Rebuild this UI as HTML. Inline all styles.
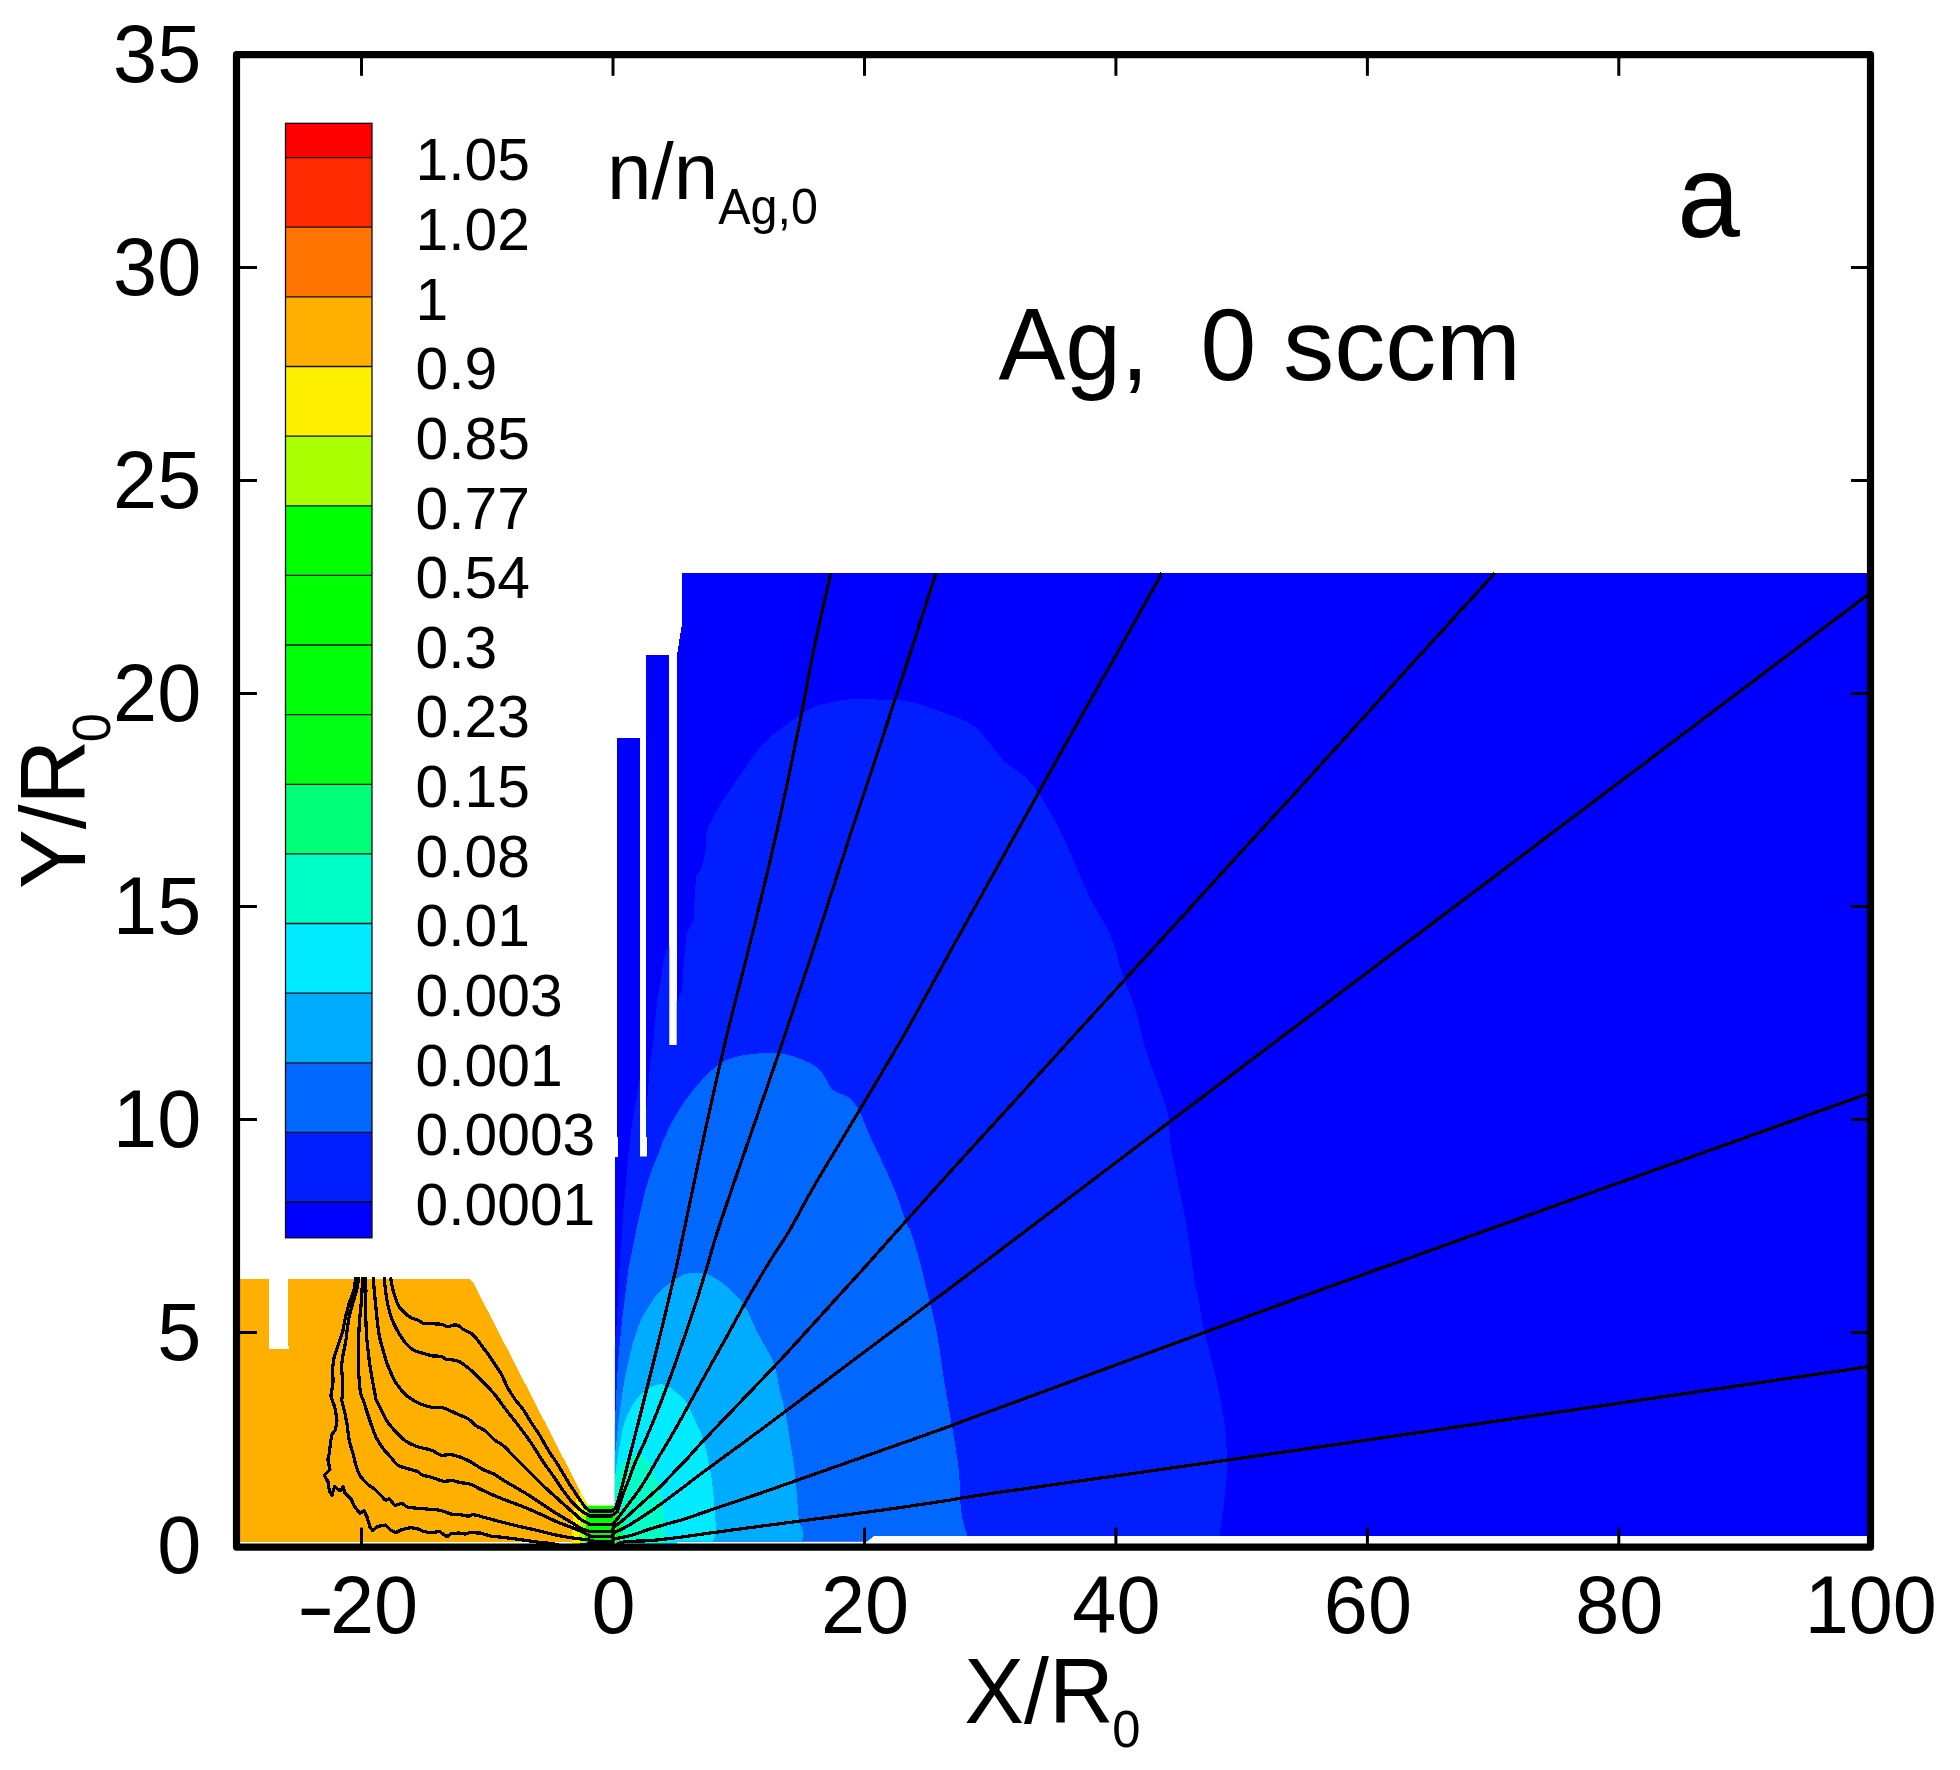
<!DOCTYPE html>
<html lang="en"><head><meta charset="utf-8"><title>Ag, 0 sccm - n/nAg,0 contour plot</title>
<style>html,body{margin:0;padding:0;background:#fff}svg{display:block}</style></head>
<body>
<svg width="1960" height="1770" viewBox="0 0 1960 1770">
<rect width="1960" height="1770" fill="#fff"/>
<defs><clipPath id="dom"><polygon points="614.9,1543.3 614.9,1156.6 618.4,1156.6 618.4,1137 617,1137 617,737.5 640,737.5 640,1156.6 647.4,1156.6 647.4,1137 646,1137 646,654.8 669.3,654.8 669.3,1044.9 676.7,1044.9 676.7,657.7 681.5,626.5 681.5,573.3 1867.2,573.3 1867.2,1536 873.5,1536 867,1541.4 676.8,1541.4 676.8,1543.3"/></clipPath></defs>
<g shape-rendering="crispEdges">
<polygon points="614.9,1543.3 614.9,1156.6 618.4,1156.6 618.4,1137 617,1137 617,737.5 640,737.5 640,1156.6 647.4,1156.6 647.4,1137 646,1137 646,654.8 669.3,654.8 669.3,1044.9 676.7,1044.9 676.7,657.7 681.5,626.5 681.5,573.3 1867.2,573.3 1867.2,1536 873.5,1536 867,1541.4 676.8,1541.4 676.8,1543.3" fill="#0000FF"/>
<g clip-path="url(#dom)">
<path d="M614 1350 L616.3 1330 L617.9 1301 L619.5 1268.8 L621.6 1236.6 L623.8 1204.4 L627 1172 L628.3 1156.6 L630.3 1137 L632.3 1122.4 L636 1102 L640 1076.5 L646 1112 L647.1 1102 L648.7 1081.6 L650.2 1063.3 L652.8 1045.9 L655.3 1020.4 L657 999.7 L660.5 982.4 L662.6 967.2 L664.6 955 L669.2 943.8 L676.8 1002.8 L677.8 999.7 L682.4 990.6 L682.9 972.2 L684.9 951.9 L686.5 933.6 L693.6 919.3 L695.1 890.9 L696.1 875.6 L701.2 869.5 L705.8 850.2 L705.8 840 L707.1 828.6 C709.8 823.8 717.3 809.5 723.2 800 C729.2 790.5 736.6 780.4 742.9 771.4 C749.1 762.5 753.6 754.2 760.7 746.4 C767.9 738.7 776.8 731.5 785.7 725 C794.6 718.5 803.6 711.4 814.3 707.1 C825 702.9 838.1 700.5 850 699.3 C861.9 698.1 875.6 699.6 885.7 700 C895.8 700.4 901.2 699.7 910.7 701.8 C920.2 703.9 932.1 708.3 942.9 712.5 C953.6 716.7 964.9 718.8 975 726.8 C985.1 734.8 995.2 752.4 1003.6 760.7 C1011.9 769 1018.5 770.2 1025 776.8 C1031.5 783.3 1036.3 789.6 1042.9 800 C1049.4 810.4 1056.5 823.2 1064.3 839.3 C1072 855.4 1081.5 880.4 1089.3 896.4 C1097 912.5 1105.4 923.2 1110.7 935.7 C1116.1 948.2 1117.3 958.9 1121.4 971.4 C1125.6 983.9 1131.8 998.2 1135.7 1010.7 C1139.6 1023.2 1141.1 1034.5 1144.6 1046.4 C1148.2 1058.3 1153.3 1070.8 1157.1 1082.1 C1161 1093.5 1165.5 1103 1167.9 1114.3 C1170.2 1125.6 1168.5 1132.1 1171.4 1150 C1174.4 1167.9 1181.8 1199.4 1185.7 1221.4 C1189.6 1243.5 1193.2 1272 1194.6 1282.1 L1198 1296 L1202.3 1322.7 L1209 1350 L1216.4 1379.2 L1224.9 1424.4 L1227.7 1464 L1225.5 1490 L1223.2 1509.2 L1219.2 1537.4 L1219 1545 L614 1545Z" fill="#001EFF"/>
<path d="M614 1430 C614.2 1427.8 614.7 1424.2 615.2 1416.6 C615.7 1409 616.2 1395.1 616.8 1384.4 C617.4 1373.7 618 1362.9 618.9 1352.2 C619.8 1341.5 621.5 1326.8 622.2 1320 C622.9 1313.2 622.6 1316.7 623.2 1311.7 C623.8 1306.7 625 1297.4 625.9 1290.2 C626.8 1283 627.4 1276 628.6 1268.8 C629.8 1261.6 631.5 1254.5 632.9 1247.3 C634.3 1240.1 635.2 1234.8 637.2 1225.8 C639.2 1216.8 642.4 1202.5 644.7 1193.6 C647 1184.7 648.6 1179.3 651.1 1172.2 C653.6 1165.1 657.6 1156.1 659.7 1150.7 C661.8 1145.3 660.4 1146.7 663.5 1140 C666.6 1133.3 672.5 1120.4 678.6 1110.7 C684.7 1101.1 692.3 1090.5 700 1082.1 C707.7 1073.8 715.5 1065.5 725 1060.7 C734.5 1056 747 1054.6 757.1 1053.6 C767.3 1052.5 775.6 1051.9 785.7 1054.3 C795.8 1056.7 810.1 1062 817.9 1067.9 C825.6 1073.7 826.2 1083.6 832.1 1089.3 C838.1 1094.9 847 1093.5 853.6 1101.8 C860.1 1110.1 864.9 1125.3 871.4 1139.3 C878 1153.3 886.9 1171.4 892.9 1185.7 C898.8 1200 904.3 1217.6 907.1 1225 C910 1232.4 908.3 1224.8 910.2 1230 C912.1 1235.2 915.3 1245.3 918.4 1256.5 C921.5 1267.7 925.5 1284.7 928.6 1297.3 C931.7 1309.9 934.3 1319.4 936.7 1332 C939.1 1344.6 940.9 1360 942.9 1372.9 C944.9 1385.8 947 1397.7 949 1409.6 C951 1421.5 953.4 1433.4 955.1 1444.3 C956.8 1455.2 958.2 1463.7 959.2 1474.9 C960.2 1486.1 959.9 1501.4 961.2 1511.6 C962.6 1521.8 966.3 1532 967.3 1536.1 L968 1545 L614 1545Z" fill="#0068FF"/>
<path d="M614 1460 C614.3 1458.1 615.1 1454.2 615.7 1448.8 C616.4 1443.3 617.1 1434.5 617.9 1427.3 C618.7 1420.1 619.6 1412.9 620.6 1405.8 C621.6 1398.7 622.5 1391.6 623.8 1384.4 C625 1377.2 626.5 1370.1 628.1 1362.9 C629.7 1355.8 631.3 1348.7 633.4 1341.5 C635.5 1334.3 639 1324.6 640.9 1320 C642.8 1315.4 643.2 1316.4 644.7 1313.8 C646.2 1311.2 647.8 1307.8 650.1 1304.2 C652.4 1300.6 655.4 1295.8 658.6 1292.4 C661.8 1289 665.8 1286.5 669.4 1283.8 C673 1281.1 676.4 1278.1 680.1 1276.3 C683.8 1274.5 687.2 1273.2 691.8 1272.9 C696.5 1272.6 703.1 1272.8 708.2 1274.5 C713.3 1276.2 717.3 1279.1 722.4 1283.1 C727.6 1287 734.7 1293.9 738.8 1298.4 C742.9 1302.8 743.9 1304 746.9 1309.6 C750 1315.2 752.7 1323.2 757.1 1332 C761.6 1340.9 769.7 1353.1 773.5 1362.7 C777.2 1372.2 777.6 1380.7 779.6 1389.2 C781.6 1397.7 784 1405.2 785.7 1413.7 C787.4 1422.2 788.4 1431.7 789.8 1440.2 C791.2 1448.7 792.7 1455.5 793.9 1464.7 C795.1 1473.9 796.1 1486.1 796.9 1495.3 C797.8 1504.5 798 1513.7 799 1519.8 C800 1525.9 802.6 1528.5 803.1 1532 C803.6 1535.6 802.2 1539.7 802 1541.2 L802 1545 L614 1545Z" fill="#00ACFF"/>
<path d="M614 1488 C614.2 1485.9 614.7 1480.3 615.2 1475.6 C615.8 1470.8 616.5 1464.9 617.3 1459.5 C618.1 1454.1 619 1448.8 620 1443.4 C621 1438 621.8 1432.5 623.2 1427.3 C624.6 1422.1 626.3 1417.1 628.6 1412.3 C630.9 1407.5 634 1402.2 637.2 1398.3 C640.4 1394.4 644.3 1391 647.9 1388.7 C651.5 1386.4 655.4 1385.1 658.6 1384.6 C661.8 1384.1 664.3 1384.3 667.2 1385.5 C670.1 1386.7 672.6 1389.1 675.8 1391.9 C679 1394.8 684 1399.4 686.5 1402.6 C689 1405.8 689.2 1407.8 690.8 1411.2 C692.4 1414.6 694.4 1419.1 696.2 1423 C698 1426.9 699.9 1430.2 701.6 1434.8 C703.3 1439.4 705 1445.3 706.4 1450.8 C707.8 1456.3 708.8 1462.1 709.8 1467.8 C710.8 1473.5 711.7 1479 712.4 1484.7 C713.1 1490.4 713.6 1496.1 714.1 1501.7 C714.6 1507.3 715 1513.6 715.3 1518.6 C715.6 1523.5 716.1 1527.7 715.8 1531.4 C715.4 1535.2 713.6 1539.5 713.2 1541.1 L713 1545 L614 1545Z" fill="#00EBFF"/>
<path d="M614 1492 C614.2 1490.1 614.7 1483.8 615.3 1480.5 C615.9 1477.2 616.3 1474.8 617.5 1472 C618.7 1469.2 620.5 1466 622.5 1463.6 C624.5 1461.2 626.8 1459.2 629.3 1457.6 C631.8 1456 635.4 1454.5 637.8 1454.2 C640.2 1453.9 642 1454.8 643.7 1455.9 C645.4 1457 646.6 1458.6 648 1461 C649.4 1463.4 650.9 1467.8 652.2 1470.3 C653.5 1472.8 654.6 1474.2 655.6 1476.3 C656.6 1478.4 657.2 1480.3 658.1 1483.1 C659 1485.9 660 1490.1 660.7 1493.2 C661.4 1496.3 662 1498.9 662.4 1501.7 C662.8 1504.5 662.9 1507.4 663.2 1510.2 C663.5 1513 663.9 1515.8 664.1 1518.6 C664.3 1521.4 664.4 1524.3 664.5 1527.1 C664.6 1529.9 665.1 1533.3 664.9 1535.6 C664.7 1537.9 663.5 1540.2 663.2 1541.1 L663 1545 L614 1545Z" fill="#00FFC8"/>
<polygon points="614,1503 617,1508 621,1516 624,1526 623,1536 619,1545 614,1545" fill="#00FF78"/>
<polygon points="614,1506 616.5,1512 619,1522 618.5,1534 616,1545 614,1545" fill="#00FF14"/>
</g>
<defs><clipPath id="cham"><polygon points="240,1279 269.2,1279 269.2,1349.4 289,1349.4 289,1345.7 287.8,1345.7 287.8,1279 469.7,1279 473.8,1283.8 587.8,1505.8 615.5,1505.8 615.5,1543.8 572,1543.8 572,1541.9 240,1541.9"/></clipPath></defs>
<polygon points="240,1279 269.2,1279 269.2,1349.4 289,1349.4 289,1345.7 287.8,1345.7 287.8,1279 469.7,1279 473.8,1283.8 587.8,1505.8 615.5,1505.8 615.5,1543.8 572,1543.8 572,1541.9 240,1541.9" fill="#FFAF00"/>
<g clip-path="url(#cham)">
<polygon points="582,1488 576.7,1498 574.9,1506.2 573.1,1515.2 572.2,1524.2 571.7,1533.3 572,1545 640,1545 640,1488" fill="#FFF000"/>
<polygon points="586.5,1497 583,1506.2 581.7,1512.9 580.3,1522 579.6,1528.8 579.4,1535.5 579.6,1545 640,1545 640,1497" fill="#AAFF00"/>
<polygon points="589,1502 586.6,1510.7 586.2,1519.7 585.7,1528.8 585.3,1535.5 584.8,1545 640,1545 640,1502" fill="#00FF00"/>
</g>
</g>
<g fill="none" stroke="#000" stroke-width="3.25" stroke-linejoin="round" shape-rendering="crispEdges">
<path d="M355.9 1277.3 L353.9 1290.6 L349.3 1302.9 L345.7 1316.1 L342.7 1331.4 L337.6 1346.7 L334 1358 L332.7 1367.1 L333 1382.4 L330.9 1396.2 L334 1404.9 L335.5 1410.2 L337 1420.4 L335.5 1429.6 L331.9 1434.7 L330.4 1442.9 L329.4 1453.1 L327.9 1459.2 L329.9 1469.4 L324.3 1475.5 L327.9 1481.6 L329.4 1490.8 L331.9 1495.4 L334.5 1486.7 L340.1 1490.8 L343.2 1486.7 L344.7 1492.9 L350.8 1498.5 L354.9 1507.1 L360 1513.3 L364.1 1510.7 L367.1 1517.3 L370.2 1527.6 L372.8 1530.6 L377.3 1526.5 L385.5 1525 L390.6 1530.1 L395.7 1532.7 L401.8 1529.6 L411 1527.6 L418.2 1529.1 L424.3 1531.6 L430.4 1532.7 L439.6 1531.6 L447.2 1536.7 L451.8 1533.2 L460 1533.1 L465.1 1534.1 L470.2 1532.6 L480.4 1533.1 L490.6 1536.1 L505.9 1537.7 L521.2 1539.7 L531.4 1541.2 L539.6 1542.4 L549.8 1543.3 L558 1544.8 L562 1547.9 L589.5 1543.8 L611.5 1543.8 L614.9 1546 C616.4 1545.3 618 1542.8 623.6 1541.9 C629.2 1541 641.2 1541.2 648.5 1540.7 C655.8 1540.2 661.1 1539.5 667.2 1538.8 C673.3 1538.1 679.2 1537.4 685 1536.6 C690.8 1535.8 689 1535.9 702 1534.1 C715 1532.3 742.9 1528.6 763.3 1525.9 C783.7 1523.2 804.1 1520.5 824.5 1517.8 C844.9 1515.1 865.3 1512.5 885.7 1509.6 C906.1 1506.7 927.9 1503.5 946.9 1500.6 C965.9 1497.7 941.1 1500.7 1000 1492.2 C1058.8 1483.7 1155.4 1470.7 1300 1449.8 C1444.6 1428.9 1772.9 1380.6 1867.5 1366.8"/>
<path d="M359 1277.3 C358.6 1279.6 357.4 1286.4 356.4 1290.6 C355.4 1294.9 354 1298.6 352.9 1302.9 C351.7 1307.1 350.2 1311.7 349.3 1316.1 C348.4 1320.5 347.8 1325.1 347.2 1329.4 C346.6 1333.6 346.5 1337 345.7 1341.6 C344.9 1346.2 343.3 1352.7 342.7 1356.9 C342 1361.2 341.6 1362.9 341.6 1367.1 C341.6 1371.4 342.6 1377.3 342.7 1382.4 C342.7 1387.6 342.3 1394.8 342.1 1397.8 C342 1400.7 341.2 1397.6 341.6 1400 C342.1 1402.4 343.8 1408 344.7 1412.2 C345.6 1416.5 346.5 1420.7 347.2 1425.5 C348 1430.3 348.4 1436.2 349.3 1440.8 C350.2 1445.4 351.8 1449 352.9 1453.1 C354 1457.1 354.7 1461.6 355.9 1465.3 C357.1 1469 358.1 1472.4 360 1475.5 C361.9 1478.6 364.6 1481.3 367.1 1483.7 C369.7 1486.1 372.9 1487.8 375.3 1489.8 C377.7 1491.8 379.7 1494.2 381.4 1495.9 C383.1 1497.6 384.1 1499.5 385.5 1500 C386.9 1500.5 388.1 1498.1 389.6 1499 C391.1 1499.8 392.7 1504.3 394.7 1505.1 C396.7 1505.9 399.6 1503.2 401.8 1503.6 C404 1503.9 404.6 1506.3 408 1507.1 C411.4 1508 417 1508.2 422.2 1508.7 C427.5 1509.2 434.7 1509.3 439.6 1510.2 C444.5 1511.1 448.4 1513.5 451.8 1514.3 C455.2 1515 457.3 1514.4 460 1514.7 C462.7 1515 466 1516.2 468.2 1516.2 C470.4 1516.2 470.4 1514.4 473.3 1514.7 C476.2 1514.9 480.9 1516.6 485.5 1517.8 C490.1 1518.9 495.5 1520.5 500.8 1521.8 C506.1 1523.2 511.4 1524.6 517.1 1525.9 C522.9 1527.3 529.7 1528.6 535.5 1530 C541.3 1531.4 546.6 1532.9 551.8 1534.1 C557.1 1535.3 562 1536.3 567.1 1537.1 C572.2 1538 578.2 1538.6 582.4 1539.2 C586.7 1539.7 591 1540.2 592.7 1540.4 L589.5 1541.3 L611.5 1541.3 L614.9 1538.8 C617.4 1538.3 624.3 1537.2 629.9 1535.7 C635.5 1534.2 642.3 1531.5 648.5 1529.5 C654.7 1527.5 661.1 1525.7 667.2 1523.9 C673.3 1522.1 679.2 1520.7 685 1518.9 C690.8 1517.1 689 1517.5 702 1513 C715 1508.5 742.9 1499.3 763.3 1492.2 C783.7 1485.1 804.1 1477.8 824.5 1470.6 C844.9 1463.4 865.3 1456.2 885.7 1449 C906.1 1441.8 927.9 1434.2 946.9 1427.3 C965.9 1420.4 941.1 1429.3 1000 1407.6 C1058.8 1385.9 1155.4 1349.6 1300 1297.3 C1444.6 1245 1772.9 1127.8 1867.5 1093.9"/>
<path d="M362.6 1277.3 C362.5 1279.6 362.3 1285.9 362 1290.6 C361.8 1295.4 361.4 1300.8 361 1305.9 C360.6 1311 359.9 1315.3 359.5 1321.2 C359.1 1327.2 358.7 1334.8 358.5 1341.6 C358.2 1348.4 358.1 1356.1 358.2 1362 C358.2 1368 358.6 1372.2 359 1377.3 C359.4 1382.4 359.8 1388.9 360.5 1392.7 C361.2 1396.4 362 1396.7 363.1 1400 C364.2 1403.3 365.8 1408.2 367.1 1412.2 C368.5 1416.3 369.7 1420.2 371.2 1424.5 C372.8 1428.7 374.3 1433.7 376.3 1437.8 C378.4 1441.8 380.9 1445.6 383.5 1449 C386 1452.4 389.3 1455.4 391.6 1458.2 C394 1460.9 395.2 1463.6 397.8 1465.3 C400.3 1467 403.7 1467.3 406.9 1468.4 C410.2 1469.4 414.6 1470.3 417.1 1471.4 C419.7 1472.5 419.7 1474 422.2 1475 C424.8 1476 429 1476.5 432.4 1477.6 C435.9 1478.6 439.3 1480.6 442.7 1481.1 C446.1 1481.6 450 1480.4 452.9 1480.6 C455.7 1480.9 457.1 1482 460 1482.6 C462.9 1483.1 466.8 1483 470.2 1484.1 C473.6 1485.2 476.5 1487.3 480.4 1489.2 C484.3 1491.1 488.9 1493.3 493.7 1495.3 C498.4 1497.3 503.7 1499.4 509 1501.4 C514.3 1503.5 519.9 1505.3 525.3 1507.6 C530.7 1509.8 536.4 1512.3 541.6 1514.7 C546.9 1517.1 552.2 1519.8 556.9 1521.8 C561.7 1523.9 566.3 1525.4 570.2 1526.9 C574.1 1528.5 577 1529.5 580.4 1531 C583.8 1532.5 588.9 1535.1 590.6 1535.9 L589.5 1536.2 L611.5 1536.2 L614.9 1532 C616.4 1531.4 620.1 1530.2 623.6 1528.3 C627.1 1526.4 632 1523.4 636.1 1520.8 C640.2 1518.2 644.4 1515.5 648.5 1512.7 C652.6 1509.9 656.8 1507 660.9 1504 C665 1501 669.4 1497.7 673.4 1494.7 C677.4 1491.7 680.2 1489.6 685 1486 C689.8 1482.4 689 1482.7 702 1473 C715 1463.3 742.9 1443.2 763.3 1428 C783.7 1412.8 804.1 1397.3 824.5 1382 C844.9 1366.7 865.3 1351.2 885.7 1336 C906.1 1320.8 927.9 1304.8 946.9 1290.5 C965.9 1276.2 974.5 1269.7 1000 1250.4 C1025.5 1231.1 1065.5 1200.7 1100 1174.6 C1134.5 1148.5 1173.7 1118.8 1207 1093.6 C1240.3 1068.4 1189.9 1106.4 1300 1023.3 C1410.1 940.2 1772.9 666.4 1867.5 595"/>
<path d="M365.6 1277.3 C365.7 1279.6 365.9 1285.9 365.9 1290.6 C365.9 1295.4 365.6 1300.8 365.6 1305.9 C365.6 1311 365.7 1316.1 365.9 1321.2 C366.1 1326.3 366.3 1331.4 366.6 1336.5 C367 1341.6 367.6 1346.7 368.2 1351.8 C368.8 1356.9 369.4 1362 370.2 1367.1 C371 1372.2 371.9 1377.7 372.8 1382.4 C373.6 1387.2 374.7 1392.8 375.3 1395.7 C375.9 1398.6 375.3 1397.6 376.3 1400 C377.3 1402.4 379.7 1406.8 381.4 1410.2 C383.1 1413.6 384.3 1417 386.5 1420.4 C388.7 1423.8 391.8 1427.4 394.7 1430.6 C397.6 1433.8 400.5 1437.2 403.9 1439.8 C407.3 1442.3 412 1444.6 415.1 1445.9 C418.2 1447.3 419.4 1447.2 422.2 1448 C425.1 1448.7 429.4 1449.3 432.4 1450.5 C435.5 1451.7 437.6 1454.4 440.6 1455.1 C443.7 1455.8 447.6 1454.3 450.8 1454.6 C454 1454.9 456.8 1455.9 460 1457 C463.2 1458.2 466.3 1459.5 470.2 1461.6 C474.1 1463.8 479.6 1467.8 483.5 1469.8 C487.4 1471.8 490.4 1472.2 493.7 1473.9 C496.9 1475.6 499.3 1477.8 502.9 1480 C506.4 1482.2 511 1484.8 515.1 1487.1 C519.2 1489.5 523.3 1491.7 527.3 1494.3 C531.4 1496.8 535.5 1499.7 539.6 1502.4 C543.7 1505.2 548.1 1508.2 551.8 1510.6 C555.6 1513 558.6 1514.7 562 1516.7 C565.4 1518.8 569.2 1521 572.2 1522.9 C575.3 1524.7 577.4 1526.5 580.4 1528 C583.4 1529.4 588.5 1531 590.1 1531.6 L589.5 1531.7 L611.5 1531.7 L613.7 1527 C615.4 1525.8 619.9 1522.7 623.6 1519.6 C627.3 1516.5 632 1512.1 636.1 1508.4 C640.2 1504.7 644.4 1500.9 648.5 1497.2 C652.6 1493.5 656.8 1490 660.9 1486 C665 1482 669.4 1477.1 673.4 1472.9 C677.4 1468.8 680.2 1466.2 685 1461.1 C689.8 1456 692.4 1452.5 702 1442.2 C711.6 1431.9 729.3 1413.7 742.9 1399.4 C756.5 1385.1 770.1 1371.1 783.7 1356.5 C797.3 1341.9 810.9 1326.6 824.5 1311.6 C838.1 1296.6 853 1280.3 865.3 1266.7 C877.5 1253.1 882.7 1247.1 898 1230 C913.3 1212.9 935.2 1188.3 957 1164.3 C978.8 1140.2 1004.8 1111.9 1028.6 1085.7 C1052.4 1059.5 1076.2 1033.2 1100 1007 C1123.8 980.8 1147.6 954.8 1171.4 928.6 C1195.2 902.4 1221.5 873.5 1242.9 850 C1264.3 826.5 1269.7 821 1300 787.7 C1330.3 754.4 1392.1 685.8 1424.6 650 C1457.1 614.2 1483.3 585.8 1495 573"/>
<path d="M373.3 1277.3 C373.4 1279.6 373.9 1285.9 374.3 1290.6 C374.7 1295.4 375.3 1300.8 375.8 1305.9 C376.3 1311 376.8 1316.1 377.3 1321.2 C377.9 1326.3 378.5 1331.8 379.4 1336.5 C380.3 1341.3 381.8 1345.5 383 1349.8 C384.1 1354 385.3 1358.3 386.5 1362 C387.8 1365.8 389.1 1368.8 390.6 1372.2 C392.1 1375.6 393.8 1379.4 395.7 1382.4 C397.6 1385.5 399.8 1388.2 401.8 1390.6 C403.9 1393 405.6 1394.9 408 1396.7 C410.3 1398.6 413.4 1400.4 416.1 1401.8 C418.8 1403.3 421.6 1404.5 424.3 1405.4 C427 1406.3 429.2 1407 432.4 1407.4 C435.7 1407.9 440.3 1407.2 443.7 1408 C447.1 1408.7 450.1 1410.8 452.9 1412 C455.6 1413.2 457.4 1414.1 460 1415.2 C462.6 1416.3 465.4 1417 468.2 1418.8 C470.9 1420.6 473.4 1423.9 476.3 1425.9 C479.2 1428 482.4 1428.6 485.5 1431 C488.6 1433.4 491.8 1437.8 494.7 1440.2 C497.6 1442.6 499.8 1442.8 502.9 1445.3 C505.9 1447.9 509.7 1452.1 513.1 1455.5 C516.5 1458.9 519.9 1462.3 523.3 1465.7 C526.7 1469.1 529.9 1472.3 533.5 1475.9 C537 1479.5 541.1 1483.7 544.7 1487.1 C548.3 1490.5 551.5 1493.3 554.9 1496.3 C558.3 1499.4 562 1502.8 565.1 1505.5 C568.2 1508.2 570.5 1510.3 573.3 1512.7 C576 1515 578.7 1517.9 581.4 1519.8 C584.1 1521.7 588.2 1523.4 589.6 1524.1 L589.5 1524.5 L611.5 1524.5 L614.3 1522.7 C615.3 1521.3 617.9 1518 620.5 1514.6 C623.1 1511.2 626.8 1506.3 629.9 1502.2 C633 1498.1 636.1 1494.3 639.2 1489.7 C642.3 1485.1 645.4 1480 648.5 1474.8 C651.6 1469.6 654.4 1464.4 657.8 1458.6 C661.2 1452.8 665 1446.8 669 1440 C673 1433.2 675.8 1428.5 681.6 1418 C687.5 1407.5 696.6 1390.5 704.1 1377 C711.6 1363.5 719.4 1349.8 726.5 1337 C733.6 1324.2 739.8 1312.5 746.9 1300 C754 1287.5 762.2 1273.7 769.4 1262 C776.5 1250.3 782.3 1242.7 789.8 1230 C797.3 1217.3 803.1 1205 814.3 1185.7 C825.5 1166.4 842.1 1139.3 857 1114.3 C871.9 1089.3 886.9 1064.9 903.6 1035.7 C920.3 1006.5 939.1 971.4 957 939.3 C974.9 907.2 992.8 875 1010.7 842.9 C1028.6 810.8 1046.2 778.5 1064.3 746.4 C1082.3 714.2 1102.7 678.9 1119 650 C1135.3 621.1 1154.8 585.8 1162 573"/>
<path d="M384.3 1277.3 C384.5 1279.6 384.9 1285.9 385.5 1290.6 C386.1 1295.4 387 1301.3 388.1 1305.9 C389.1 1310.5 390.2 1314.3 391.6 1318.2 C393.1 1322.1 394.9 1326 396.7 1329.4 C398.5 1332.8 400.5 1335.9 402.3 1338.6 C404.2 1341.3 405.8 1343.7 408 1345.7 C410.1 1347.8 412.2 1349.5 415.1 1350.8 C418 1352.2 422.4 1353 425.3 1353.9 C428.2 1354.7 429.9 1355.5 432.4 1355.9 C435 1356.3 438.2 1355.8 440.6 1356.4 C443 1357 444.7 1358.9 446.7 1359.5 C448.8 1360.1 450.6 1359.6 452.9 1360 C455.1 1360.4 457.6 1360.9 460 1362 C462.4 1363.2 464.9 1365.4 467.1 1367.1 C469.4 1368.8 471.2 1370.4 473.3 1372.2 C475.3 1374.1 476 1374.9 479.4 1378.4 C482.8 1381.9 489.3 1388.1 493.7 1393.3 C498.1 1398.5 502 1404.5 505.9 1409.6 C509.8 1414.7 512.9 1418.3 517.1 1423.9 C521.4 1429.5 527.3 1437.3 531.4 1443.3 C535.5 1449.2 538.2 1454.5 541.6 1459.6 C545 1464.7 548.8 1469.5 551.8 1473.9 C554.9 1478.3 557.3 1482.2 560 1486.1 C562.7 1490 565.6 1494.1 568.2 1497.3 C570.7 1500.6 572.9 1503.1 575.3 1505.5 C577.7 1507.9 580.1 1509.9 582.4 1511.6 C584.8 1513.4 588.4 1515.2 589.6 1515.9 L589.5 1516 L611.5 1516 L617.4 1511.5 C618.2 1508.9 620.5 1501.1 622.4 1495.9 C624.3 1490.7 626.6 1485.6 628.6 1480.4 C630.6 1475.2 631.4 1471.6 634.2 1464.9 C637 1458.2 641.6 1448.8 645.4 1440 C649.2 1431.2 652.9 1422.5 657.1 1412 C661.3 1401.5 666.1 1388.7 670.4 1377 C674.7 1365.3 678.6 1353.8 682.7 1342 C686.8 1330.2 691 1318 694.9 1306 C698.8 1294 702.2 1282.7 706.1 1270 C710 1257.3 711.9 1248.8 718 1230 C724.1 1211.2 732.8 1186.4 742.9 1157 C753 1127.6 766.7 1088.7 778.6 1053.6 C790.5 1018.5 802.4 982.7 814.3 946.4 C826.2 910.1 838.7 870.2 850 835.7 C861.3 801.2 871.8 770.2 882 739.3 C892.2 708.3 902.3 677.7 911.3 650 C920.3 622.3 931.9 585.8 936 573"/>
<path d="M390.6 1277.3 C391 1279.2 391.8 1285 392.7 1288.6 C393.5 1292.1 394.6 1295.7 395.7 1298.8 C396.8 1301.8 397.6 1304.4 399.3 1306.9 C401 1309.5 403.8 1312.2 405.9 1314.1 C408 1316 410 1317.1 412 1318.2 C414.1 1319.2 416.3 1319.4 418.2 1320.2 C420 1321.1 421.2 1322.7 423.3 1323.3 C425.3 1323.9 427.3 1323.6 430.4 1323.8 C433.5 1323.9 438.7 1323.8 441.6 1324.3 C444.5 1324.8 446.1 1326.7 447.8 1326.8 C449.5 1327 450.1 1325.6 451.8 1325.3 C453.5 1325.1 456.1 1324.6 458 1325.3 C459.8 1326 460.9 1328 463.1 1329.4 C465.3 1330.7 469 1331.9 471.2 1333.5 C473.4 1335 474.5 1336.4 476.3 1338.6 C478.2 1340.8 480.4 1344 482.4 1346.7 C484.5 1349.5 486.5 1352 488.6 1354.9 C490.6 1357.8 492.7 1361 494.7 1364.1 C496.7 1367.1 498.6 1369.3 500.8 1373.3 C503 1377.3 505.6 1383.8 508 1388.2 C510.3 1392.5 512.6 1395.8 515.1 1399.4 C517.7 1403 520.5 1405.7 523.3 1409.6 C526 1413.5 528.7 1418.6 531.4 1422.9 C534.1 1427.1 536.9 1430.7 539.6 1435.1 C542.3 1439.5 545 1445 547.8 1449.4 C550.5 1453.8 553.5 1457.9 555.9 1461.6 C558.3 1465.4 560 1468.4 562 1471.8 C564.1 1475.2 566.1 1478.8 568.2 1482 C570.2 1485.3 572.2 1488.2 574.3 1491.2 C576.3 1494.3 578.5 1497.7 580.4 1500.4 C582.3 1503.1 583.9 1505.8 585.5 1507.6 C587.1 1509.3 589.3 1510.3 590.1 1510.8 L589.5 1510.9 L611.5 1510.9 L615.6 1508.4 C616.2 1506.3 618 1500.6 619.3 1495.9 C620.6 1491.2 621.8 1487.1 623.6 1480.4 C625.4 1473.7 627 1466.7 629.9 1455.5 C632.8 1444.3 635.9 1432.4 640.8 1413 C645.7 1393.6 653.4 1362.7 659.2 1339 C665 1315.3 671.4 1288.6 675.5 1270.8 C679.6 1253 679.5 1252.1 683.7 1232 C688 1211.9 694.1 1181.5 701 1150 C707.9 1118.5 716.5 1078.6 725 1042.9 C733.5 1007.2 743.2 971.4 752 935.7 C760.8 900 769.5 864.3 777.5 828.6 C785.5 792.9 794 751.2 800 721.4 C806 691.6 808.6 674.7 813.7 650 C818.9 625.3 828 585.8 830.9 573"/>
</g>
<g shape-rendering="crispEdges">
<rect x="285.5" y="123.3" width="86.5" height="34.3" fill="#FF0000"/>
<rect x="285.5" y="157.6" width="86.5" height="69.6" fill="#FF2A00"/>
<rect x="285.5" y="227.2" width="86.5" height="69.6" fill="#FF7300"/>
<rect x="285.5" y="296.9" width="86.5" height="69.6" fill="#FFAF00"/>
<rect x="285.5" y="366.5" width="86.5" height="69.6" fill="#FFF000"/>
<rect x="285.5" y="436.1" width="86.5" height="69.6" fill="#AAFF00"/>
<rect x="285.5" y="505.8" width="86.5" height="69.6" fill="#00FF00"/>
<rect x="285.5" y="575.4" width="86.5" height="69.6" fill="#00FF00"/>
<rect x="285.5" y="645" width="86.5" height="69.6" fill="#00FF08"/>
<rect x="285.5" y="714.6" width="86.5" height="69.6" fill="#00FF14"/>
<rect x="285.5" y="784.3" width="86.5" height="69.6" fill="#00FF78"/>
<rect x="285.5" y="853.9" width="86.5" height="69.6" fill="#00FFC8"/>
<rect x="285.5" y="923.5" width="86.5" height="69.6" fill="#00EBFF"/>
<rect x="285.5" y="993.2" width="86.5" height="69.6" fill="#00ACFF"/>
<rect x="285.5" y="1062.8" width="86.5" height="69.6" fill="#0068FF"/>
<rect x="285.5" y="1132.4" width="86.5" height="69.6" fill="#001EFF"/>
<rect x="285.5" y="1202" width="86.5" height="35.8" fill="#0000FF"/>
</g>
<g stroke="#111" stroke-width="1.3" fill="none">
<rect x="285.5" y="123.3" width="86.5" height="1114.5"/>
<line x1="285.5" x2="372" y1="157.6" y2="157.6"/>
<line x1="285.5" x2="372" y1="227.2" y2="227.2"/>
<line x1="285.5" x2="372" y1="296.9" y2="296.9"/>
<line x1="285.5" x2="372" y1="366.5" y2="366.5"/>
<line x1="285.5" x2="372" y1="436.1" y2="436.1"/>
<line x1="285.5" x2="372" y1="505.8" y2="505.8"/>
<line x1="285.5" x2="372" y1="575.4" y2="575.4"/>
<line x1="285.5" x2="372" y1="645" y2="645"/>
<line x1="285.5" x2="372" y1="714.6" y2="714.6"/>
<line x1="285.5" x2="372" y1="784.3" y2="784.3"/>
<line x1="285.5" x2="372" y1="853.9" y2="853.9"/>
<line x1="285.5" x2="372" y1="923.5" y2="923.5"/>
<line x1="285.5" x2="372" y1="993.2" y2="993.2"/>
<line x1="285.5" x2="372" y1="1062.8" y2="1062.8"/>
<line x1="285.5" x2="372" y1="1132.4" y2="1132.4"/>
<line x1="285.5" x2="372" y1="1202" y2="1202"/>
</g>
<g font-family="'Liberation Sans', sans-serif" fill="#000">
<g font-size="58.8">
<text transform="translate(415.5,180.4) scale(1,1.015)">1.05</text>
<text transform="translate(415.5,250) scale(1,1.015)">1.02</text>
<text transform="translate(415.5,319.7) scale(1,1.015)">1</text>
<text transform="translate(415.5,389.3) scale(1,1.015)">0.9</text>
<text transform="translate(415.5,458.9) scale(1,1.015)">0.85</text>
<text transform="translate(415.5,528.5) scale(1,1.015)">0.77</text>
<text transform="translate(415.5,598.2) scale(1,1.015)">0.54</text>
<text transform="translate(415.5,667.8) scale(1,1.015)">0.3</text>
<text transform="translate(415.5,737.4) scale(1,1.015)">0.23</text>
<text transform="translate(415.5,807.1) scale(1,1.015)">0.15</text>
<text transform="translate(415.5,876.7) scale(1,1.015)">0.08</text>
<text transform="translate(415.5,946.3) scale(1,1.015)">0.01</text>
<text transform="translate(415.5,1016) scale(1,1.015)">0.003</text>
<text transform="translate(415.5,1085.6) scale(1,1.015)">0.001</text>
<text transform="translate(415.5,1155.2) scale(1,1.015)">0.0003</text>
<text transform="translate(415.5,1224.8) scale(1,1.015)">0.0001</text>
</g>
</g>
<g stroke="#000" fill="none">
<g stroke-width="3">
<line x1="361.5" x2="361.5" y1="54.6" y2="75.8"/>
<line x1="361.5" x2="361.5" y1="1547.1" y2="1527.6"/>
<line x1="613" x2="613" y1="54.6" y2="75.8"/>
<line x1="613" x2="613" y1="1547.1" y2="1527.6"/>
<line x1="864.5" x2="864.5" y1="54.6" y2="75.8"/>
<line x1="864.5" x2="864.5" y1="1547.1" y2="1527.6"/>
<line x1="1115.9" x2="1115.9" y1="54.6" y2="75.8"/>
<line x1="1115.9" x2="1115.9" y1="1547.1" y2="1527.6"/>
<line x1="1367.4" x2="1367.4" y1="54.6" y2="75.8"/>
<line x1="1367.4" x2="1367.4" y1="1547.1" y2="1527.6"/>
<line x1="1618.8" x2="1618.8" y1="54.6" y2="75.8"/>
<line x1="1618.8" x2="1618.8" y1="1547.1" y2="1527.6"/>
<line x1="236.5" x2="257" y1="1332.5" y2="1332.5"/>
<line x1="1870.5" x2="1851" y1="1332.5" y2="1332.5"/>
<line x1="236.5" x2="257" y1="1119.5" y2="1119.5"/>
<line x1="1870.5" x2="1851" y1="1119.5" y2="1119.5"/>
<line x1="236.5" x2="257" y1="906.5" y2="906.5"/>
<line x1="1870.5" x2="1851" y1="906.5" y2="906.5"/>
<line x1="236.5" x2="257" y1="693.5" y2="693.5"/>
<line x1="1870.5" x2="1851" y1="693.5" y2="693.5"/>
<line x1="236.5" x2="257" y1="480.5" y2="480.5"/>
<line x1="1870.5" x2="1851" y1="480.5" y2="480.5"/>
<line x1="236.5" x2="257" y1="267.5" y2="267.5"/>
<line x1="1870.5" x2="1851" y1="267.5" y2="267.5"/>
</g>
<rect x="236.5" y="54.6" width="1634" height="1492.5" stroke-width="7.2" stroke-linejoin="round"/>
</g>
<g font-family="'Liberation Sans', sans-serif" fill="#000">
<text transform="translate(201.2,1572.8) scale(1,1.022)" font-size="79.2" text-anchor="end">0</text>
<text transform="translate(201.2,1359.8) scale(1,1.022)" font-size="79.2" text-anchor="end">5</text>
<text transform="translate(201.2,1146.8) scale(1,1.022)" font-size="79.2" text-anchor="end">10</text>
<text transform="translate(201.2,933.8) scale(1,1.022)" font-size="79.2" text-anchor="end">15</text>
<text transform="translate(201.2,720.8) scale(1,1.022)" font-size="79.2" text-anchor="end">20</text>
<text transform="translate(201.2,507.8) scale(1,1.022)" font-size="79.2" text-anchor="end">25</text>
<text transform="translate(201.2,294.8) scale(1,1.022)" font-size="79.2" text-anchor="end">30</text>
<text transform="translate(201.2,81.8) scale(1,1.022)" font-size="79.2" text-anchor="end">35</text>
<text transform="translate(613.5,1632.5) scale(1,1.022)" font-size="79.2" text-anchor="middle">0</text>
<text transform="translate(865,1632.5) scale(1,1.022)" font-size="79.2" text-anchor="middle">20</text>
<text transform="translate(1116.4,1632.5) scale(1,1.022)" font-size="79.2" text-anchor="middle">40</text>
<text transform="translate(1367.9,1632.5) scale(1,1.022)" font-size="79.2" text-anchor="middle">60</text>
<text transform="translate(1619.3,1632.5) scale(1,1.022)" font-size="79.2" text-anchor="middle">80</text>
<text transform="translate(1870.8,1632.5) scale(1,1.022)" font-size="79.2" text-anchor="middle">100</text>
<text transform="translate(330,1632.5) scale(1,1.022)" font-size="79.2" text-anchor="start">20</text>
<text transform="translate(296.5,1634.3) scale(1,1.022)" font-size="79.2" text-anchor="start" textLength="38.3" lengthAdjust="spacingAndGlyphs">-</text>
<text transform="translate(964.3,1722.6) scale(1,1.027)" font-size="89.7">X/R<tspan font-size="50.8" dx="-1.5" dy="24">0</tspan></text>
<text transform="translate(85.1,889) rotate(-90) scale(1,1.027)" font-size="89.5">Y/R<tspan font-size="52.5" dx="-2.3" dy="24.2">0</tspan></text>
<text font-size="80" x="607" y="199.4">n/n</text>
<text transform="translate(718.2,223.7) scale(1,1.045)" font-size="48.5">Ag,0</text>
<text transform="translate(1677.2,236.7) scale(0.955,1)" font-size="118">a</text>
<text transform="translate(998.5,380) scale(1,1.02)" font-size="100.2" xml:space="preserve"><tspan>Ag, </tspan><tspan x="202">0 </tspan><tspan x="284.8" textLength="237.6" lengthAdjust="spacingAndGlyphs">sccm</tspan></text>
</g>
</svg>
</body></html>
